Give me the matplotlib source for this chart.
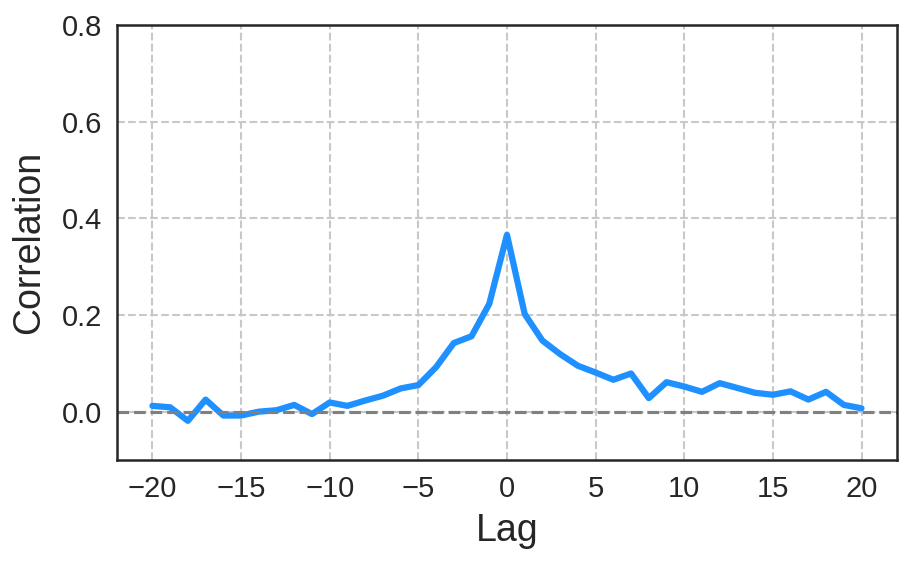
import numpy as np
import matplotlib
matplotlib.use('Agg')
import matplotlib.pyplot as plt
import seaborn as sns

lags = list(range(-20, 21))
corr = [0.012, 0.009, -0.019, 0.025, -0.008, -0.008, 0.000, 0.003, 0.014, -0.005,
        0.019, 0.012, 0.023, 0.033, 0.048, 0.055, 0.092, 0.142, 0.156, 0.223,
        0.366,
        0.202, 0.147, 0.119, 0.095, 0.081, 0.066, 0.079, 0.028, 0.061, 0.052,
        0.041, 0.059, 0.049, 0.039, 0.035, 0.042, 0.025, 0.041, 0.014, 0.007]

sns.set_style('white')
plt.rcParams['font.family'] = ['Liberation Sans', 'DejaVu Sans']

fig = plt.figure(figsize=(911 / 150, 562 / 150), dpi=150)
ax = fig.add_axes([0.1284, 0.1815, 0.8562, 0.774])

ax.plot(lags, corr, color='dodgerblue', linewidth=3)
ax.axhline(0, color='gray', linestyle='--', linewidth=1.5)
ax.grid(True, color='#c8c8c8', linestyle='--', linewidth=1)
ax.set_axisbelow(True)

ax.set_xlim(-22, 22)
ax.set_ylim(-0.1, 0.8)
ax.set_xticks([-20, -15, -10, -5, 0, 5, 10, 15, 20])
ax.set_yticks([0.0, 0.2, 0.4, 0.6, 0.8])
ax.tick_params(labelsize=14, colors='.15')
ax.set_xlabel('Lag', fontsize=18, color='.15', labelpad=5)
ax.set_ylabel('Correlation', fontsize=18, color='.15', labelpad=7)
for s in ax.spines.values():
    s.set_color('.15')
    s.set_linewidth(1.2)

fig.savefig('out.png', dpi=150)
